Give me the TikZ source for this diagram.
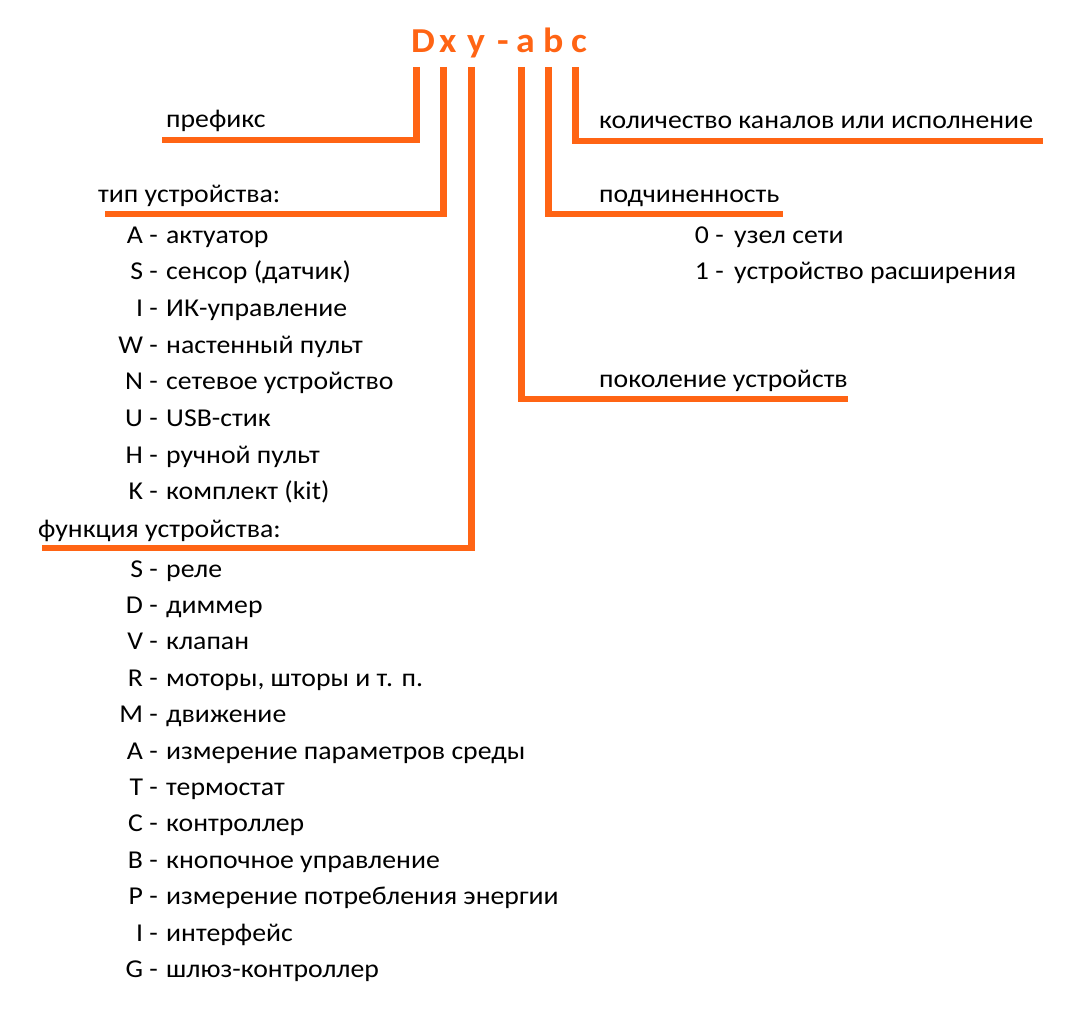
\documentclass[tikz,border=0pt]{standalone}
\usepackage{fontspec}
\setmainfont{Carlito}[FakeStretch=1.08]
\definecolor{codeorange}{HTML}{FF6414}

\begin{document}
\begin{tikzpicture}[x=1pt, y=-1pt,
    code/.style={font=\fontsize{35}{40}\selectfont\bfseries, text=codeorange,
                 inner sep=0pt, anchor=base west},
    lbl/.style={font=\fontsize{25.7}{30}\selectfont, inner sep=0pt, anchor=base west},
    key/.style={lbl, anchor=base east},
    lead/.style={draw=codeorange, line width=6.5pt}
]
\useasboundingbox (0,0) rectangle (1074,1014);

% --- code letters ---
\node[code] (tD)    at (411, 53) {D};
\node[code] (tx)    at (439, 53) {x};
\node[code] (ty)    at (467, 53) {y};
\node[code] (tdash) at (497, 53) {-};
\node[code] (ta)    at (516, 53) {a};
\node[code] (tb)    at (543, 53) {b};
\node[code] (tc)    at (571, 53) {c};

% --- feet of the leads ---
\coordinate (pfxfoot) at (162, 140);
\coordinate (typfoot) at (105, 214);
\coordinate (funfoot) at (42, 548);
\coordinate (genfoot) at (848, 399);
\coordinate (subfoot) at (783, 214);
\coordinate (chnfoot) at (1043, 141);

% --- headings ---
\node[lbl] (pfx) at (166, 128) {префикс};
\node[lbl] (typ) at (98, 203) {тип устройства:};
\node[lbl] (fun) at (38, 537) {функция устройства:};
\node[lbl] (chn) at (599, 129) {количество каналов или исполнение};
\node[lbl] (sub) at (599, 203) {подчиненность};
\node[lbl] (gen) at (599, 387) {поколение устройств};

% --- device types ---
\node[key] (tk1) at (158, 243.0) {A -};  \node[lbl] (td1) at (166, 243.0) {актуатор};
\node[key] (tk2) at (158, 279.7) {S -};  \node[lbl] (td2) at (166, 279.7) {сенсор (датчик)};
\node[key] (tk3) at (158, 316.4) {I -};  \node[lbl] (td3) at (166, 316.4) {ИК-управление};
\node[key] (tk4) at (158, 353.1) {W -};  \node[lbl] (td4) at (166, 353.1) {настенный пульт};
\node[key] (tk5) at (158, 389.8) {N -};  \node[lbl] (td5) at (166, 389.8) {сетевое устройство};
\node[key] (tk6) at (158, 426.5) {U -};  \node[lbl] (td6) at (166, 426.5) {USB-стик};
\node[key] (tk7) at (158, 463.2) {H -};  \node[lbl] (td7) at (166, 463.2) {ручной пульт};
\node[key] (tk8) at (158, 499.9) {K -};  \node[lbl] (td8) at (166, 499.9) {комплект (kit)};

% --- device functions ---
\node[key] (fk1)  at (158, 577.0) {S -};  \node[lbl] (fd1)  at (166, 577.0) {реле};
\node[key] (fk2)  at (158, 613.4) {D -};  \node[lbl] (fd2)  at (166, 613.4) {диммер};
\node[key] (fk3)  at (158, 649.8) {V -};  \node[lbl] (fd3)  at (166, 649.8) {клапан};
\node[key] (fk4)  at (158, 686.2) {R -};  \node[lbl] (fd4)  at (166, 686.2) {моторы, шторы и т. п.};
\node[key] (fk5)  at (158, 722.6) {M -};  \node[lbl] (fd5)  at (166, 722.6) {движение};
\node[key] (fk6)  at (158, 759.0) {A -};  \node[lbl] (fd6)  at (166, 759.0) {измерение параметров среды};
\node[key] (fk7)  at (158, 795.4) {T -};  \node[lbl] (fd7)  at (166, 795.4) {термостат};
\node[key] (fk8)  at (158, 831.8) {C -};  \node[lbl] (fd8)  at (166, 831.8) {контроллер};
\node[key] (fk9)  at (158, 868.2) {B -};  \node[lbl] (fd9)  at (166, 868.2) {кнопочное управление};
\node[key] (fk10) at (158, 904.6) {P -};  \node[lbl] (fd10) at (166, 904.6) {измерение потребления энергии};
\node[key] (fk11) at (158, 941.0) {I -};  \node[lbl] (fd11) at (166, 941.0) {интерфейс};
\node[key] (fk12) at (158, 977.4) {G -};  \node[lbl] (fd12) at (166, 977.4) {шлюз-контроллер};

% --- subordination ---
\node[key] (sk1) at (724, 243.0) {0\ -};  \node[lbl] (sd1) at (734, 243.0) {узел сети};
\node[key] (sk2) at (724, 279.7) {1\ -};  \node[lbl] (sd2) at (734, 279.7) {устройство расширения};

% --- leads ---
\draw[lead] ([xshift=5.5pt, yshift=-14pt]tD.base west) |- (pfxfoot);
\draw[lead] ([xshift=4.5pt, yshift=-14pt]tx.base west) |- (typfoot);
\draw[lead] ([xshift=4.5pt, yshift=-14pt]ty.base west) |- (funfoot);
\draw[lead] ([xshift=5.5pt, yshift=-14pt]ta.base west) |- (genfoot);
\draw[lead] ([xshift=5.5pt, yshift=-14pt]tb.base west) |- (subfoot);
\draw[lead] ([xshift=4.5pt, yshift=-14pt]tc.base west) |- (chnfoot);

\end{tikzpicture}
\end{document}
